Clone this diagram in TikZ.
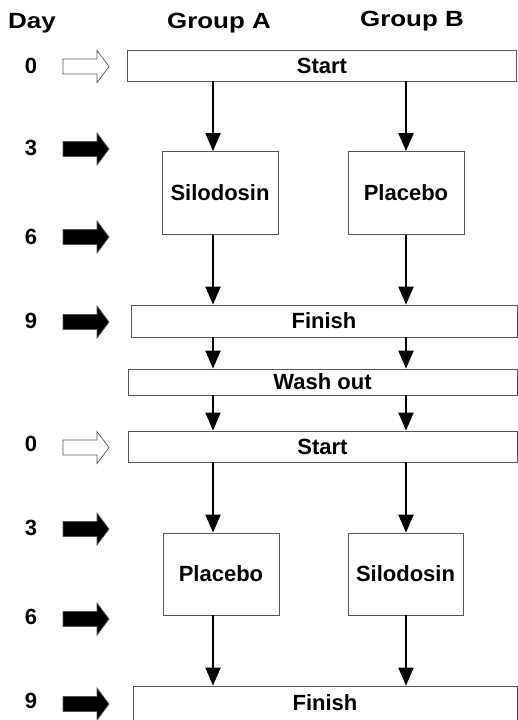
\documentclass[tikz,border=0pt]{standalone}
\usepackage{fontspec}
\setmainfont{Liberation Sans}
\usepackage{tikz}
\usetikzlibrary{
    arrows.meta, positioning, calc
}
\definecolor{boxGray}{HTML}{555555}

% block arrow in front of a day number: #1 = y, #2 = fill
\newcommand{\dayarrow}[2]{%
    \filldraw[draw=boxGray, fill=#2, line width=0.7pt]
        (63,#1+7.5) -- (97,#1+7.5) -- (97,#1+16) -- (109,#1)
        -- (97,#1-16) -- (97,#1-7.5) -- (63,#1-7.5) -- cycle;}

\begin{document}
\begin{tikzpicture}[x=1pt, y=1pt,
    txt/.style={font=\fontsize{22}{26}\selectfont\bfseries},
    box/.style={txt, draw=boxGray, line width=0.8pt, rectangle, inner sep=0pt},
    wide/.style={box, minimum width=389pt, minimum height=31pt},
    drug/.style={box, minimum width=116pt, minimum height=83pt},
    flow/.style={line width=2pt, -{Triangle[length=18pt, width=15pt]}}
]
            \useasboundingbox (0,0) rectangle (518,-720);
            
            % headings
            \node[txt, anchor=base] (day) at (32,-28) {\scalebox{1.18}[1]{Day}};
            \node[txt, anchor=base] (groupA) at (219,-28) {\scalebox{1.18}[1]{Group A}};
            \node[txt, anchor=base] (groupB) at (412,-26) {\scalebox{1.18}[1]{Group B}};
            
            \coordinate (colA) at (213,0);
            \coordinate (colB) at (406,0);
            
            % first period
            \node[wide] (start1) at (322,-65.5) {Start};
            \node[drug] (siloA) at (220,-193) {Silodosin};
            \node[drug] (placB) at (406,-193) {Placebo};
            \node[wide, minimum width=386pt, minimum height=32pt] (finish1) at (324,-321) {Finish};
            
            \node[wide, minimum height=26pt] (wash) at (322.5,-382) {Wash out};
            
            % second period
            \node[wide] (start2) at (322.5,-446.5) {Start};
            \node[drug, minimum height=82pt] (placA) at (221,-574) {Placebo};
            \node[drug, minimum width=115pt, minimum height=82pt] (siloB) at (405.5,-574) {Silodosin};
            \node[wide, minimum width=384pt, minimum height=34pt] (finish2) at (325,-703) {Finish};
            
            % group A
            \draw[flow] (start1.south -| colA) -- (siloA.north -| colA);
            \draw[flow] (siloA.south -| colA) -- (finish1.north -| colA);
            \draw[flow] (finish1.south -| colA) -- (wash.north -| colA);
            \draw[flow] (wash.south -| colA) -- (start2.north -| colA);
            \draw[flow] (start2.south -| colA) -- (placA.north -| colA);
            \draw[flow] (placA.south -| colA) -- (finish2.north -| colA);
            
            % group B
            \draw[flow] (start1.south -| colB) -- (placB.north -| colB);
            \draw[flow] (placB.south -| colB) -- (finish1.north -| colB);
            \draw[flow] (finish1.south -| colB) -- (wash.north -| colB);
            \draw[flow] (wash.south -| colB) -- (start2.north -| colB);
            \draw[flow] (start2.south -| colB) -- (siloB.north -| colB);
            \draw[flow] (siloB.south -| colB) -- (finish2.north -| colB);
            
            % days
            \node[txt] (d0a) at (31,-65.5) {0};
            \node[txt] (d3a) at (31,-148) {3};
            \node[txt] (d6a) at (31,-237) {6};
            \node[txt] (d9a) at (31,-321) {9};
            \node[txt] (d0b) at (31,-444) {0};
            \node[txt] (d3b) at (31,-528) {3};
            \node[txt] (d6b) at (31,-617) {6};
            \node[txt] (d9b) at (31,-701) {9};
            
            \dayarrow{-66.5}{white}
            \dayarrow{-149}{black}
            \dayarrow{-237}{black}
            \dayarrow{-322}{black}
            \dayarrow{-447.5}{white}
            \dayarrow{-529}{black}
            \dayarrow{-619}{black}
            \dayarrow{-704}{black}
        \end{tikzpicture}
\end{document}
